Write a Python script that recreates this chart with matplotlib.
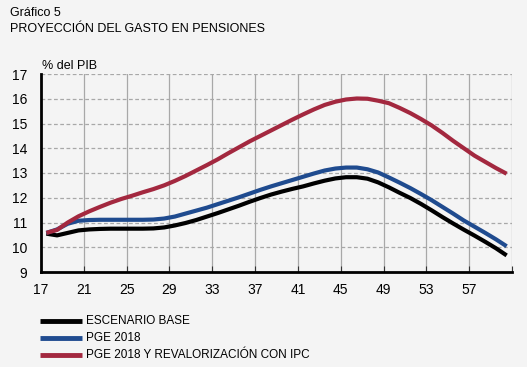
import matplotlib
matplotlib.use("Agg")
import matplotlib.pyplot as plt
from matplotlib import font_manager
import numpy as np

years = list(range(17, 61))
base = [10.55, 10.48, 10.58, 10.68, 10.72, 10.74, 10.75, 10.75, 10.75, 10.75,
        10.76, 10.80, 10.88, 10.98, 11.10, 11.24, 11.38, 11.53, 11.68, 11.84,
        11.99, 12.13, 12.25, 12.36, 12.46, 12.58, 12.69, 12.78, 12.83, 12.83,
        12.77, 12.62, 12.42, 12.20, 11.99, 11.75, 11.49, 11.22, 10.96, 10.71,
        10.47, 10.22, 9.96, 9.67]
pge = [10.58, 10.72, 10.95, 11.07, 11.10, 11.11, 11.11, 11.11, 11.11, 11.11,
       11.12, 11.16, 11.24, 11.36, 11.48, 11.60, 11.74, 11.88, 12.02, 12.17,
       12.32, 12.46, 12.59, 12.72, 12.85, 12.98, 13.10, 13.18, 13.22, 13.22,
       13.15, 13.02, 12.82, 12.61, 12.39, 12.15, 11.90, 11.63, 11.36, 11.08,
       10.83, 10.58, 10.32, 10.04]
ipc = [10.58, 10.70, 11.00, 11.25, 11.45, 11.63, 11.80, 11.95, 12.08, 12.22,
       12.35, 12.50, 12.68, 12.88, 13.10, 13.32, 13.55, 13.80, 14.04, 14.28,
       14.50, 14.72, 14.94, 15.16, 15.37, 15.57, 15.75, 15.88, 15.97, 16.01,
       16.00, 15.92, 15.82, 15.63, 15.42, 15.18, 14.92, 14.62, 14.30, 14.00,
       13.70, 13.45, 13.20, 12.97]
series_labels = ["ESCENARIO BASE", "PGE 2018", "PGE 2018 Y REVALORIZACIÓN CON IPC"]
colors = ["#000000", "#1f4b8f", "#a3283f"]
xticks = list(range(17, 58, 4))
yticks = list(range(9, 18))

names = {f.name for f in font_manager.fontManager.ttflist}
main_font = "Liberation Sans" if "Liberation Sans" in names else "DejaVu Sans"
narrow_font = "Liberation Sans Narrow" if "Liberation Sans Narrow" in names else main_font
plt.rcParams['font.family'] = [main_font, 'DejaVu Sans']

bg = "#f4f4f4"
fig = plt.figure(figsize=(5.27, 3.67), dpi=100, facecolor=bg)
W, H = 527, 367
ax = fig.add_axes([41 / W, 1 - 272 / H, (512 - 41) / W, (272 - 74) / H])
ax.set_facecolor(bg)

x = np.array(years) + 0.5
lines = []
for vals, c in zip([base, pge, ipc], colors):
    l, = ax.plot(x, vals, color=c, lw=3.0, solid_capstyle='butt', zorder=3)
    lines.append(l)

ax.set_xlim(17, 61)
ax.set_ylim(9, 17)
ax.set_xticks(xticks + [61])
ax.set_xticklabels([str(t) for t in xticks] + [""])
ax.set_yticks(yticks)
ax.tick_params(axis='x', direction='in', length=4, width=0.8, color='#333333',
               labelsize=10, pad=8)
ax.tick_params(axis='y', length=0, labelsize=10, pad=10)

for yv in yticks[1:]:
    ax.axhline(yv, color='#a8a8a8', lw=0.9, ls=(0, (3, 2)), zorder=1)
for xv in xticks[1:] + [61]:
    ax.axvline(xv, color='#a8a8a8', lw=0.9, zorder=1)

for s in ['top', 'right']:
    ax.spines[s].set_visible(False)
ax.spines['left'].set_linewidth(2)
ax.spines['bottom'].set_linewidth(2)

fig.text(10 / W, 1 - 16 / H, "Gráfico 5", fontsize=9, va='baseline', ha='left')
fig.text(10 / W, 1 - 32 / H, "PROYECCIÓN DEL GASTO EN PENSIONES", fontsize=9,
         va='baseline', ha='left')
fig.text(42 / W, 1 - 69 / H, "% del PIB", fontsize=9, va='baseline', ha='left')

leg_y = [321, 338, 355]
for yy, c, lab in zip(leg_y, colors, series_labels):
    fig.add_artist(plt.Line2D([40 / W, 82 / W], [1 - yy / H, 1 - yy / H],
                              color=c, lw=3.5, transform=fig.transFigure,
                              solid_capstyle='butt'))
    fig.text(86 / W, 1 - yy / H, lab, fontsize=8.5, va='center', ha='left',
             family=[narrow_font, 'DejaVu Sans'])

fig.savefig("out.png", dpi=100, facecolor=bg)
